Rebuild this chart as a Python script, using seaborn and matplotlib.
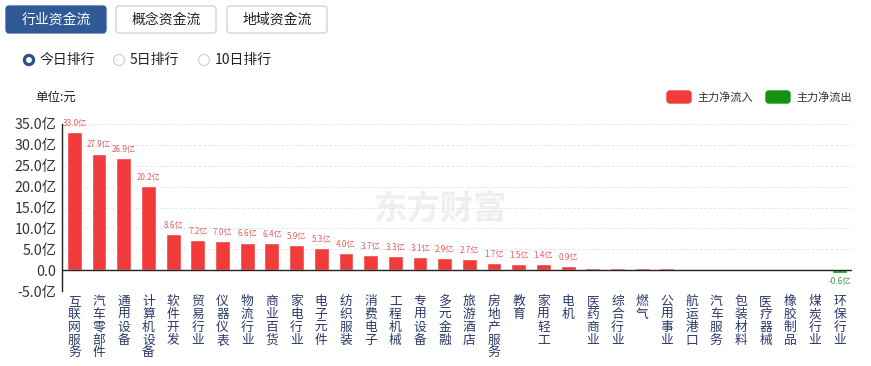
import matplotlib
matplotlib.use("Agg")
import matplotlib.pyplot as plt
import seaborn as sns
import pandas as pd
from matplotlib.patches import FancyBboxPatch, Circle

sns.set_theme(style="white")
plt.rcParams['font.family'] = ['Noto Sans CJK SC', 'DejaVu Sans']
plt.rcParams['axes.unicode_minus'] = False

categories = ["互联网服务", "汽车零部件", "通用设备", "计算机设备", "软件开发", "贸易行业", "仪器仪表",
              "物流行业", "商业百货", "家电行业", "电子元件", "纺织服装", "消费电子", "工程机械",
              "专用设备", "多元金融", "旅游酒店", "房地产服务", "教育", "家用轻工", "电机",
              "医药商业", "综合行业", "燃气", "公用事业", "航运港口", "汽车服务", "包装材料",
              "医疗器械", "橡胶制品", "煤炭行业", "环保行业"]
values = [33.0, 27.9, 26.9, 20.2, 8.6, 7.2, 7.0, 6.6, 6.4, 5.9, 5.3, 4.0, 3.7, 3.3, 3.1, 2.9,
          2.7, 1.7, 1.5, 1.4, 0.9, 0.5, 0.5, 0.4, 0.4, 0.3, 0.05, 0.03, 0.02, -0.02, -0.1, -0.6]
yticks = [-5, 0, 5, 10, 15, 20, 25, 30, 35]
tabs = ["行业资金流", "概念资金流", "地域资金流"]
radios = ["今日排行", "5日排行", "10日排行"]
legend_labels = ["主力净流入", "主力净流出"]

RED = "#f23c3c"
GREEN = "#139213"

df = pd.DataFrame({"cat": categories, "val": values})
colors = [RED if v >= 0 else GREEN for v in values]

W, H = 871, 366
fig = plt.figure(figsize=(W / 100, H / 100), dpi=100)

# overlay for header elements in pixel coordinates (behind the chart)
ov = fig.add_axes([0, 0, 1, 1], zorder=0)
ov.set_xlim(0, W)
ov.set_ylim(H, 0)
ov.axis("off")

ax = fig.add_axes([62 / W, (H - 291) / H, (852 - 62) / W, (291 - 124) / H], zorder=1)
ax.patch.set_alpha(0)

sns.barplot(data=df, x="cat", y="val", hue="cat", palette=colors, legend=False,
            width=0.6, ax=ax, saturation=1)

ax.set_xlim(-0.5, len(categories) - 0.5)
ax.set_ylim(-5, 35)
ax.set_yticks(yticks)
ax.set_yticklabels([("%.1f亿" % t) if t != 0 else "0.0" for t in yticks], fontsize=10.3, color="#333333")
for t in yticks:
    if t > 0:
        ax.axhline(t, color="#e6e6e6", lw=0.7, ls=(0, (3, 2)), zorder=0)
ax.axhline(0, color="#222222", lw=1.0, zorder=3)
for s in ["top", "right", "bottom"]:
    ax.spines[s].set_visible(False)
ax.spines["left"].set_color("#222222")
ax.spines["left"].set_linewidth(1.0)
ax.tick_params(axis="y", length=0, pad=4)
ax.tick_params(axis="x", length=0, pad=3)
ax.set_xticks(range(len(categories)))
ax.set_xticklabels(["\n".join(c) for c in categories], fontsize=9.2, color="#2b3a67",
                   va="top", linespacing=0.98)
ax.set_xlabel("")
ax.set_ylabel("")

# value labels
for i, v in enumerate(values):
    if v >= 0.6:
        ax.annotate("%.1f亿" % v, (i, v), xytext=(0, 3), textcoords="offset points",
                    ha="center", va="bottom", fontsize=5.8, color="#e06060")
    elif v <= -0.6:
        ax.annotate("%.1f亿" % v, (i, v), xytext=(0, -3), textcoords="offset points",
                    ha="center", va="top", fontsize=5.8, color="#3a9a3a")

tab_x = [6, 116, 227]
for i, (x0, t) in enumerate(zip(tab_x, tabs)):
    active = i == 0
    ov.add_patch(FancyBboxPatch((x0, 6), 100, 27, boxstyle="round,pad=0,rounding_size=3",
                                fc="#2f5a97" if active else "white",
                                ec="#2f5a97" if active else "#cfcfcf", lw=0.9))
    ov.text(x0 + 50, 20, t, ha="center", va="center", fontsize=10,
            color="white" if active else "#222222")

radio_x = [29, 119, 204]
for i, (cx, t) in enumerate(zip(radio_x, radios)):
    if i == 0:
        ov.add_patch(Circle((cx, 60), 5.5, fc="#2f4f86", ec="#2f4f86"))
        ov.add_patch(Circle((cx, 60), 2.2, fc="white", ec="white"))
    else:
        ov.add_patch(Circle((cx, 60), 5.5, fc="white", ec="#d0d0d0", lw=0.8))
    ov.text(cx + 11, 60, t, ha="left", va="center", fontsize=10, color="#222222")

ov.text(35, 97, "单位:元", ha="left", va="center", fontsize=9, color="#222222")

leg_x = [667, 766]
for x0, lab, c in zip(leg_x, legend_labels, [RED, GREEN]):
    ov.add_patch(FancyBboxPatch((x0, 91), 24, 12, boxstyle="round,pad=0,rounding_size=3",
                                fc=c, ec=c))
    ov.text(x0 + 30, 97, lab, ha="left", va="center", fontsize=8, color="#333333")

ov.text(440, 210, "东方财富", ha="center", va="center", fontsize=24, color="#efefef",
        fontweight="bold", style="italic")

fig.savefig("out.png", dpi=100, facecolor="white")
